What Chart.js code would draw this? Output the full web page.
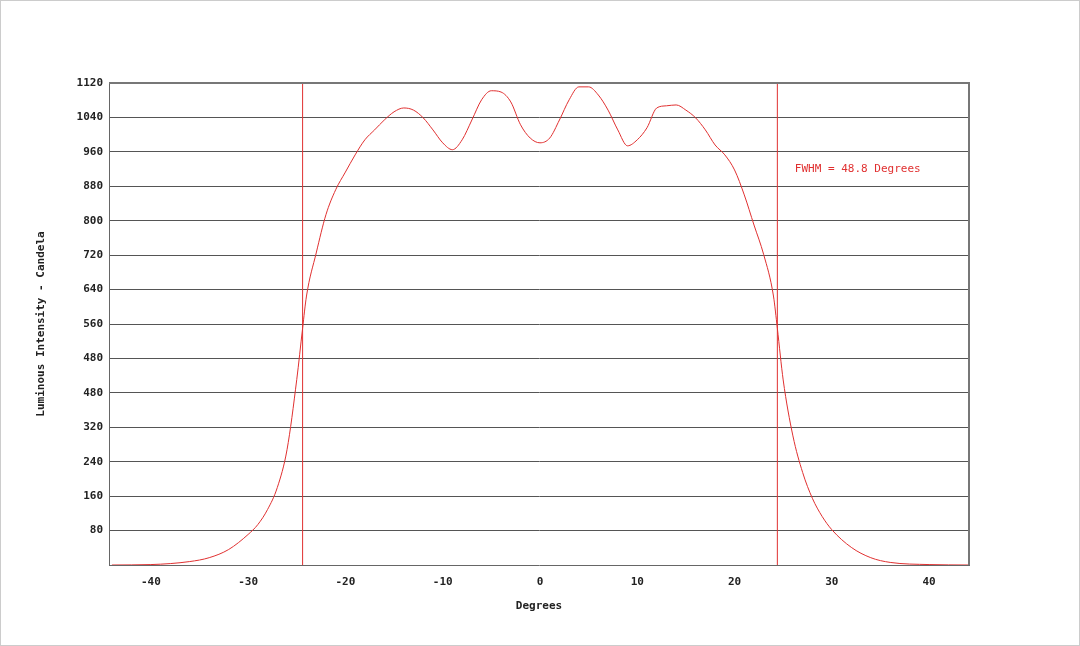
<!DOCTYPE html>
<html><head><meta charset="utf-8">
<script src="https://cdn.jsdelivr.net/npm/chart.js@4/dist/chart.umd.min.js"></script>
<style>html,body{margin:0;background:#fff}#wrap{width:1080px;height:646px;box-sizing:border-box;border:1px solid #ccc}</style>
</head><body><div id="wrap"><canvas id="graf"></canvas></div>
<script>
const degrees = [-44,-40,-36,-34,-32,-30,-29,-28,-27,-26,-25,-24.4,-24,-23,-22,-21,-20,-19,-18,-17,-16,-15,-14,-13,-12,-11,-10,-9,-8,-7,-6,-5,-4,-3,-2,-1,0,1,2,3,4,5,6,7,8,9,10,11,12,13,14,15,16,17,18,19,20,21,22,23,24,24.4,25,26,27,28,29,30,32,34,36,40,44];
const candela = [0,1,8,17,36,71,94,129,180,268,431,550,625,725,814,872,913,953,988,1011,1034,1053,1062,1057,1039,1011,981,965,988,1034,1081,1102,1099,1076,1023,992,981,992,1034,1081,1111,1111,1092,1057,1011,974,988,1016,1062,1067,1069,1057,1039,1011,976,953,918,860,790,721,625,550,430,300,215,155,113,82,41,17,6,1,0];
const fwhmLeft = -24.4, fwhmRight = 24.4;
const yTickLabels = ["80","160","240","320","480","480","560","640","720","800","880","960","1040","1120"];
const xTicks = [-40,-30,-20,-10,0,10,20,30,40];

const red = '#e03030';
const font = {family: 'DejaVu Sans Mono', size: 11, weight: 'bold'};

const labelPlugin = {
  id: 'fwhm',
  afterDatasetsDraw(chart) {
    const {ctx, scales} = chart;
    ctx.save();
    ctx.fillStyle = red;
    ctx.font = '11px "DejaVu Sans Mono"';
    ctx.textBaseline = 'middle';
    ctx.fillText('FWHM = 48.8 Degrees', scales.x.getPixelForValue(26.2), scales.y.getPixelForValue(920));
    // heavier top border of the plot
    ctx.strokeStyle = '#777';
    ctx.lineWidth = 2;
    ctx.beginPath();
    ctx.moveTo(chart.chartArea.left, chart.chartArea.top);
    ctx.lineTo(chart.chartArea.right, chart.chartArea.top);
    ctx.lineTo(chart.chartArea.right, chart.chartArea.bottom);
    ctx.stroke();
    ctx.restore();
  }
};

new Chart(document.querySelector('#graf'), {
  type: 'line',
  data: {
    datasets: [
      {data: degrees.map((d, i) => ({x: d, y: candela[i]})), borderColor: red, borderWidth: 1, pointRadius: 0, cubicInterpolationMode: 'monotone'},
      {data: [{x: fwhmLeft, y: 0}, {x: fwhmLeft, y: 1120}], borderColor: red, borderWidth: 1, pointRadius: 0},
      {data: [{x: fwhmRight, y: 0}, {x: fwhmRight, y: 1120}], borderColor: red, borderWidth: 1, pointRadius: 0}
    ]
  },
  plugins: [labelPlugin],
  options: {
    responsive: true, maintainAspectRatio: false, animation: false,
    layout: {padding: {left: 30, right: 110, top: 82, bottom: 28}},
    plugins: {legend: {display: false}, tooltip: {enabled: false}},
    scales: {
      x: {
        type: 'linear', min: -44.3, max: 44.1,
        afterBuildTicks: s => { s.ticks = xTicks.map(v => ({value: v})); },
        grid: {display: false, drawTicks: true},
        border: {color: '#666'},
        ticks: {color: '#222', font, maxRotation: 0},
        title: {display: true, text: 'Degrees', color: '#222', font, padding: {top: 2}},
        afterFit: s => { s.height = 52; }
      },
      y: {
        min: 0, max: 1120,
        afterBuildTicks: s => { s.ticks = yTickLabels.map((t, i) => ({value: (i + 1) * 80})); },
        grid: {color: '#555', drawTicks: false},
        border: {color: '#666'},
        ticks: {color: '#222', font, padding: 6, callback: (v, i) => yTickLabels[i]},
        title: {display: true, text: 'Luminous Intensity - Candela', color: '#222', font},
        afterFit: s => { s.width = 78; }
      }
    }
  }
});
</script></body></html>
